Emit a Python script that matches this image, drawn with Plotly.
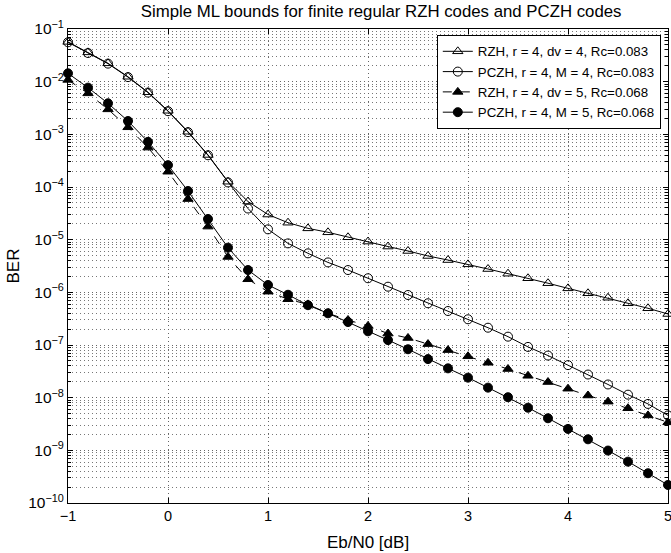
import plotly.graph_objects as go

ebn0 = [-1.0, -0.8, -0.6, -0.4, -0.2, 0.0, 0.2, 0.4, 0.6, 0.8, 1.0, 1.2, 1.4, 1.6, 1.8, 2.0,
        2.2, 2.4, 2.6, 2.8, 3.0, 3.2, 3.4, 3.6, 3.8, 4.0, 4.2, 4.4, 4.6, 4.8, 5.0]

rzh_dv4 = [5.7e-2, 3.6e-2, 2.23e-2, 1.24e-2, 6.3e-3, 2.8e-3, 1.12e-3, 4.06e-4, 1.26e-4, 5.3e-5,
           3.0e-5, 2.1e-5, 1.64e-5, 1.38e-5, 1.11e-5, 9.2e-6, 7.4e-6, 6.1e-6, 4.9e-6, 4.1e-6,
           3.4e-6, 2.77e-6, 2.26e-6, 1.85e-6, 1.49e-6, 1.19e-6, 9.6e-7, 7.9e-7, 6.2e-7, 4.98e-7, 3.88e-7]

pczh_m4 = [5.6e-2, 3.5e-2, 2.2e-2, 1.22e-2, 6.2e-3, 2.75e-3, 1.1e-3, 4.0e-4, 1.22e-4, 3.9e-5,
           1.57e-5, 8.5e-6, 5.5e-6, 3.7e-6, 2.65e-6, 1.85e-6, 1.28e-6, 8.9e-7, 6.2e-7, 4.42e-7,
           3.08e-7, 2.13e-7, 1.44e-7, 9.2e-8, 6.3e-8, 4.15e-8, 2.75e-8, 1.78e-8, 1.14e-8, 7.6e-9, 4.6e-9]

rzh_dv5 = [1.08e-2, 6.0e-3, 2.98e-3, 1.36e-3, 5.6e-4, 1.95e-4, 5.9e-5, 1.77e-5, 4.7e-6, 1.77e-6,
           1.03e-6, 7.4e-7, 5.9e-7, 4.0e-7, 2.98e-7, 2.3e-7, 1.65e-7, 1.36e-7, 1.04e-7, 8.0e-8,
           6.1e-8, 4.6e-8, 3.5e-8, 2.6e-8, 1.98e-8, 1.48e-8, 1.1e-8, 8.4e-9, 6.3e-9, 4.6e-9, 3.4e-9]

pczh_m5 = [1.44e-2, 7.7e-3, 3.88e-3, 1.79e-3, 7.2e-4, 2.6e-4, 8.4e-5, 2.47e-5, 7.05e-6, 2.65e-6,
           1.38e-6, 9.0e-7, 5.7e-7, 4.0e-7, 2.73e-7, 1.82e-7, 1.24e-7, 8.3e-8, 5.4e-8, 3.6e-8,
           2.4e-8, 1.55e-8, 1.02e-8, 6.45e-9, 4.06e-9, 2.55e-9, 1.62e-9, 9.9e-10, 6.1e-10, 3.67e-10, 2.2e-10]

names = ["RZH, r = 4, dv = 4, Rc=0.083", "PCZH, r = 4, M = 4, Rc=0.083",
         "RZH, r = 4, dv = 5, Rc=0.068", "PCZH, r = 4, M = 5, Rc=0.068"]

x_ticks = [-1, 0, 1, 2, 3, 4, 5]
y_exps = list(range(-10, 0))

fig = go.Figure()
series = [
    (rzh_dv4, "triangle-up-open", "solid"),
    (pczh_m4, "circle-open", "solid"),
    (rzh_dv5, "triangle-up", "dash"),
    (pczh_m5, "circle", "solid"),
]
for (vals, sym, dash), nm in zip(series, names):
    fig.add_trace(go.Scatter(
        x=ebn0, y=vals, name=nm, mode="lines+markers", cliponaxis=False,
        line=dict(color="black", width=1, dash=dash),
        marker=dict(symbol=sym, size=9, color="black", line=dict(color="black", width=1)),
    ))

minor_vals = [k * 10.0 ** e for e in range(-10, -1) for k in range(2, 10)]

fig.update_layout(
    width=671, height=553,
    margin=dict(l=68, r=3, t=29, b=50, autoexpand=False),
    paper_bgcolor="white", plot_bgcolor="white",
    font=dict(family="Liberation Sans, Arial, sans-serif", size=14.5, color="black"),
    title=dict(text="Simple ML bounds for finite regular RZH codes and PCZH codes",
               x=0.568, xanchor="center", y=1 - 11.5 / 553, yanchor="middle", font=dict(size=16.8)),
    showlegend=True,
    legend=dict(x=0.988, y=0.987, xanchor="right", yanchor="top",
                bgcolor="white", bordercolor="black", borderwidth=1,
                font=dict(size=13.3), tracegroupgap=0, itemwidth=30),
)
grid_dash = "1px,3px"
fig.update_xaxes(
    range=[-1, 5], tickvals=x_ticks, ticktext=[("\u2212" + str(-v)) if v < 0 else str(v) for v in x_ticks],
    ticklabeloverflow="allow",
    showline=True, linecolor="black", linewidth=1, mirror="allticks",
    ticks="inside", ticklen=5, tickcolor="black",
    showgrid=True, gridcolor="#666", griddash=grid_dash, gridwidth=1, zeroline=False,
    title=dict(text="Eb/N0 [dB]", standoff=12),
)
fig.update_yaxes(
    type="log", range=[-10, -1],
    tickvals=[10.0 ** e for e in y_exps],
    ticktext=["10<sup>\u2212%d</sup>" % (-e) for e in y_exps],
    ticklabeloverflow="allow", tickfont=dict(size=15.5),
    showline=True, linecolor="black", linewidth=1, mirror="allticks",
    ticks="inside", ticklen=5, tickcolor="black",
    showgrid=True, gridcolor="#666", griddash=grid_dash, gridwidth=1, zeroline=False,
    minor=dict(tickvals=minor_vals, showgrid=True, gridcolor="#777", griddash=grid_dash,
               ticks="inside", ticklen=3, tickcolor="black"),
    title=dict(text="BER", standoff=4),
)
fig.write_html("out.html", config={"displayModeBar": False},
               post_script="document.body.style.margin='0';")
